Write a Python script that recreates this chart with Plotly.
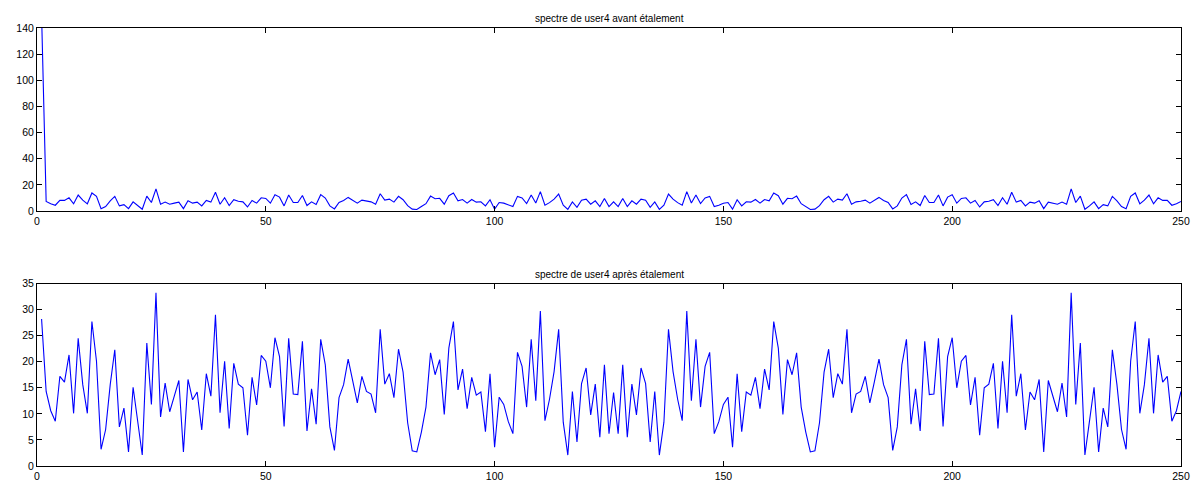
import plotly.graph_objects as go

# frequency bin index (MATLAB 1-based)
bins = list(range(1, 251))

# |FFT| of user4 before spreading
spectre_avant = [
    150, 7.3, 5.5, 4.4, 8.1, 8.1, 10.1, 5.5, 12.2, 8.3,
    5.5, 13.8, 11.2, 1.8, 3.4, 7.8, 11.2, 3.9, 4.9, 1.8,
    7.0, 3.9, 1.3, 11.4, 6.5, 16.9, 5.2, 6.8, 5.2, 6.0,
    6.8, 1.8, 7.8, 6.0, 6.8, 3.9, 8.1, 6.8, 14.3, 5.2,
    10.1, 4.2, 8.6, 7.5, 7.0, 3.1, 8.1, 6.0, 10.1, 9.6,
    6.0, 12.5, 10.6, 3.9, 12.2, 6.5, 6.5, 11.9, 4.2, 7.0,
    5.0, 12.5, 9.9, 3.9, 1.6, 6.5, 8.1, 10.4, 8.1, 6.0,
    8.3, 7.5, 7.0, 5.2, 13.2, 8.3, 9.1, 6.8, 11.2, 8.6,
    4.1, 1.4, 1.1, 3.4, 5.6, 11.4, 9.4, 9.7, 5.2, 11.7,
    13.8, 7.8, 8.8, 6.0, 8.8, 6.8, 7.1, 3.9, 8.6, 1.4,
    6.5, 6.0, 4.4, 3.4, 11.2, 10.0, 5.7, 12.2, 6.1, 14.8,
    4.5, 6.4, 9.1, 13.0, 4.5, 1.3, 6.9, 2.8, 8.3, 9.1,
    5.2, 7.8, 3.4, 9.6, 3.4, 7.0, 3.4, 9.6, 3.4, 7.8,
    5.2, 9.1, 8.3, 2.8, 6.9, 1.3, 4.5, 13.0, 9.1, 6.4,
    4.5, 14.8, 6.1, 12.2, 5.7, 10.0, 11.2, 3.4, 4.4, 6.0,
    6.5, 1.4, 8.6, 3.9, 7.1, 6.8, 8.8, 6.0, 8.8, 7.8,
    13.8, 11.7, 5.2, 9.7, 9.4, 11.4, 5.6, 3.4, 1.1, 1.4,
    4.1, 8.6, 11.2, 6.8, 9.1, 8.3, 13.2, 5.2, 7.0, 7.5,
    8.3, 6.0, 8.1, 10.4, 8.1, 6.5, 1.6, 3.9, 9.9, 12.5,
    5.0, 7.0, 4.2, 11.9, 6.5, 6.5, 12.2, 3.9, 10.6, 12.5,
    6.0, 9.6, 10.1, 6.0, 8.1, 3.1, 7.0, 7.5, 8.6, 4.2,
    10.1, 5.2, 14.3, 6.8, 8.1, 3.9, 6.8, 6.0, 7.8, 1.8,
    6.8, 6.0, 5.2, 6.8, 5.2, 16.9, 6.5, 11.4, 1.3, 3.9,
    7.0, 1.8, 4.9, 3.9, 11.2, 7.8, 3.4, 1.8, 11.2, 13.8,
    5.5, 8.3, 12.2, 5.5, 10.1, 8.1, 8.1, 4.4, 5.5, 7.3,
]

# |FFT| of user4 after spreading
spectre_apres = [
    28.2, 14.3, 10.6, 8.6, 17.2, 16.1, 21.3, 10.1, 24.5, 15.6,
    10.1, 27.7, 20.1, 3.2, 7.0, 15.6, 22.3, 7.5, 11.1, 2.7,
    15.1, 8.6, 2.1, 23.6, 11.8, 33.2, 9.4, 15.9, 10.4, 13.4,
    16.4, 2.7, 16.6, 12.7, 14.2, 6.9, 17.7, 13.4, 29.0, 10.2,
    20.1, 7.2, 19.7, 15.7, 15.0, 5.9, 17.0, 11.7, 21.2, 20.1,
    15.0, 24.6, 21.0, 7.6, 24.5, 13.8, 13.7, 23.9, 6.7, 14.8,
    8.0, 24.3, 19.4, 7.5, 3.0, 13.1, 15.6, 20.5, 16.2, 12.1,
    17.2, 14.3, 13.8, 10.2, 26.2, 15.7, 17.7, 13.1, 22.4, 18.0,
    8.3, 2.9, 2.7, 6.5, 11.3, 21.7, 17.5, 20.4, 9.9, 22.6,
    27.7, 14.6, 18.6, 11.0, 17.0, 13.6, 14.2, 6.6, 17.7, 3.6,
    13.2, 11.8, 8.5, 6.2, 21.8, 19.1, 11.3, 24.3, 12.5, 29.7,
    8.7, 12.8, 18.1, 26.2, 8.4, 2.1, 14.3, 4.6, 15.8, 18.8,
    9.8, 15.7, 5.5, 19.4, 6.2, 14.1, 6.2, 19.4, 5.5, 15.7,
    9.8, 18.8, 15.8, 4.6, 14.3, 2.1, 8.4, 26.2, 18.1, 12.8,
    8.7, 29.7, 12.5, 24.3, 11.3, 19.1, 21.8, 6.2, 8.5, 11.8,
    13.2, 3.6, 17.7, 6.6, 14.2, 13.6, 17.0, 11.0, 18.6, 14.6,
    27.7, 22.6, 9.9, 20.4, 17.5, 21.7, 11.3, 6.5, 2.7, 2.9,
    8.3, 18.0, 22.4, 13.1, 17.7, 15.7, 26.2, 10.2, 13.8, 14.3,
    17.2, 12.1, 16.2, 20.5, 15.6, 13.1, 3.0, 7.5, 19.4, 24.3,
    8.0, 14.8, 6.7, 23.9, 13.7, 13.8, 24.5, 7.6, 21.0, 24.6,
    15.0, 20.1, 21.2, 11.7, 17.0, 5.9, 15.0, 15.7, 19.7, 7.2,
    20.1, 10.2, 29.0, 13.4, 17.7, 6.9, 14.2, 12.7, 16.6, 2.7,
    16.4, 13.4, 10.4, 15.9, 9.4, 33.2, 11.8, 23.6, 2.1, 8.6,
    15.1, 2.7, 11.1, 7.5, 22.3, 15.6, 7.0, 3.2, 20.1, 27.7,
    10.1, 15.6, 24.5, 10.1, 21.3, 16.1, 17.2, 8.6, 10.6, 14.3,
]

titre_haut = "spectre de user4 avant étalement"
titre_bas = "spectre de user4 après étalement"
x_ticks = [0, 50, 100, 150, 200, 250]
y_ticks_haut = [0, 20, 40, 60, 80, 100, 120, 140]
y_ticks_bas = [0, 5, 10, 15, 20, 25, 30, 35]

FONT = "Liberation Sans, Arial, sans-serif"

fig = go.Figure()
fig.add_trace(go.Scatter(x=bins, y=spectre_avant, mode="lines",
                         line=dict(color="#0000ff", width=1.1),
                         xaxis="x", yaxis="y", showlegend=False))
fig.add_trace(go.Scatter(x=bins, y=spectre_apres, mode="lines",
                         line=dict(color="#0000ff", width=1.1),
                         xaxis="x2", yaxis="y2", showlegend=False))

H_AREA = 438.0
dom_top = [(466 - 211) / H_AREA, 1.0]
dom_bot = [0.0, 182.5 / H_AREA]

common_axis = dict(showline=True, linecolor="black", linewidth=1, mirror="allticks",
                   ticks="inside", ticklen=5, tickwidth=1, tickcolor="black",
                   showgrid=False, zeroline=False, automargin=False,
                   tickfont=dict(family=FONT, size=10.5, color="black"))

fig.update_layout(
    width=1200, height=481,
    margin=dict(l=37, r=19, t=28, b=15),
    paper_bgcolor="white", plot_bgcolor="white",
    font=dict(family=FONT, color="black"),
    xaxis=dict(domain=[0, 1], anchor="y", range=[0, 250], tickvals=x_ticks, **common_axis),
    yaxis=dict(domain=dom_top, anchor="x", range=[0, 140], tickvals=y_ticks_haut, **common_axis),
    xaxis2=dict(domain=[0, 1], anchor="y2", range=[0, 250], tickvals=x_ticks, **common_axis),
    yaxis2=dict(domain=dom_bot, anchor="x2", range=[0, 35], tickvals=y_ticks_bas, **common_axis),
    annotations=[
        dict(text=titre_haut, xref="paper", yref="paper", x=0.5, y=dom_top[1],
             yanchor="bottom", yshift=2, showarrow=False,
             font=dict(family=FONT, size=10, color="black")),
        dict(text=titre_bas, xref="paper", yref="paper", x=0.5, y=dom_bot[1],
             yanchor="bottom", yshift=2, showarrow=False,
             font=dict(family=FONT, size=10, color="black")),
    ],
)

fig.write_html("out.html")
